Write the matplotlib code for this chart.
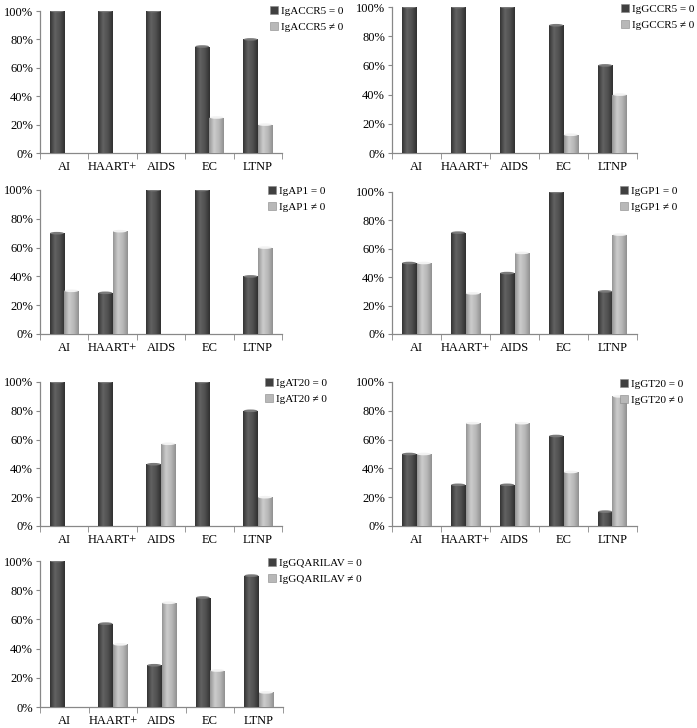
import numpy as np
import matplotlib
matplotlib.use('Agg')
import matplotlib.pyplot as plt
from matplotlib.colors import LinearSegmentedColormap
from matplotlib.patches import Ellipse, Patch

plt.rcParams['font.family'] = ['Liberation Serif', 'DejaVu Serif']

groups = ['AI', 'HAART+', 'AIDS', 'EC', 'LTNP']

# antibody name, share "= 0", share "!= 0"
markers = ['IgACCR5', 'IgGCCR5', 'IgAP1', 'IgGP1', 'IgAT20', 'IgGT20', 'IgGQARILAV']
zero_vals = [
    [100, 100, 100, 75, 80],
    [100, 100, 100, 87.5, 60],
    [70, 28.6, 100, 100, 40],
    [50, 71.4, 42.9, 100, 30],
    [100, 100, 42.9, 100, 80],
    [50, 28.6, 28.6, 62.5, 10],
    [100, 57.1, 28.6, 75, 90],
]
nonzero_vals = [
    [0, 0, 0, 25, 20],
    [0, 0, 0, 12.5, 40],
    [30, 71.4, 0, 0, 60],
    [50, 28.6, 57.1, 0, 70],
    [0, 0, 57.1, 0, 20],
    [50, 71.4, 71.4, 37.5, 90],
    [0, 42.9, 71.4, 25, 10],
]

# panel boxes in pixels: left, right, top (100%), bottom (0%)
boxes = [
    (40, 282, 11, 153), (392, 637, 7, 153),
    (40, 282, 190, 334), (392, 637, 192, 334),
    (40, 282, 382, 526), (392, 637, 382, 526),
    (40, 283, 561, 707),
]
# legend anchor (pixel x of square, y of first row top)
legend_pos = [(270, 6), (621, 4), (268, 186), (620, 186), (265, 378), (620, 379), (268, 558)]

W, H = 697, 728
fig = plt.figure(figsize=(W / 100, H / 100), dpi=100)

dark_cmap = LinearSegmentedColormap.from_list('d', ['#343434', '#626262', '#505050', '#303030'])
light_cmap = LinearSegmentedColormap.from_list('l', ['#959595', '#cccccc', '#b8b8b8', '#909090'])
grad = np.linspace(0, 1, 64).reshape(1, -1)


def shade(ax, bars, cmap, cap_color):
    for p in bars:
        x0, w, h = p.get_x(), p.get_width(), p.get_height()
        if h <= 0:
            p.set_visible(False)
            continue
        im = ax.imshow(grad, extent=(x0, x0 + w, 0, h), aspect='auto', cmap=cmap, zorder=3)
        im.set_clip_path(p)
        ax.add_patch(Ellipse((x0 + w / 2, h), w * 0.95, 0.018, facecolor=cap_color,
                             edgecolor='none', zorder=4))


x = np.arange(len(groups))
bw = 0.30
for i, name in enumerate(markers):
    l, r, t, b = boxes[i]
    ax = fig.add_axes([l / W, 1 - b / H, (r - l) / W, (b - t) / H])
    z = np.array(zero_vals[i]) / 100
    nz = np.array(nonzero_vals[i]) / 100
    b1 = ax.bar(x - bw / 2, z, bw, color='#464646', zorder=2)
    b2 = ax.bar(x + bw / 2, nz, bw, color='#b0b0b0', zorder=2)
    shade(ax, b1, dark_cmap, '#7a7a7a')
    shade(ax, b2, light_cmap, '#f2f2f2')
    ax.set_xlim(-0.5, len(groups) - 0.5)
    ax.set_ylim(0, 1)
    ticks = np.arange(0, 1.01, 0.2)
    ax.set_yticks(ticks)
    ax.set_yticklabels([f'{int(round(v * 100))}%' for v in ticks], fontsize=9)
    ax.set_xticks(x)
    ax.set_xticklabels(groups, fontsize=9)
    ax.set_xticks(np.arange(-0.5, len(groups)), minor=True)
    ax.tick_params(axis='x', which='major', length=0, pad=6)
    ax.tick_params(axis='x', which='minor', length=4, color='#888888', direction='out')
    ax.tick_params(axis='y', length=3, color='#888888', pad=2)
    for s in ['top', 'right']:
        ax.spines[s].set_visible(False)
    for s in ['left', 'bottom']:
        ax.spines[s].set_color('#888888')
        ax.spines[s].set_linewidth(0.9)
    ax.patch.set_alpha(0)

    lx, ly = legend_pos[i]
    handles = [Patch(facecolor='#404040', edgecolor='#888888', linewidth=0.4),
               Patch(facecolor='#b8b8b8', edgecolor='#888888', linewidth=0.4)]
    fig.legend(handles, [f'{name} = 0', f'{name} \u2260 0'], loc='upper left',
               bbox_to_anchor=(lx / W, 1 - ly / H), frameon=False, fontsize=8,
               handlelength=0.7, handleheight=0.7, handletextpad=0.3,
               labelspacing=0.55, borderpad=0, borderaxespad=0)

fig.savefig('out.png', dpi=100)
